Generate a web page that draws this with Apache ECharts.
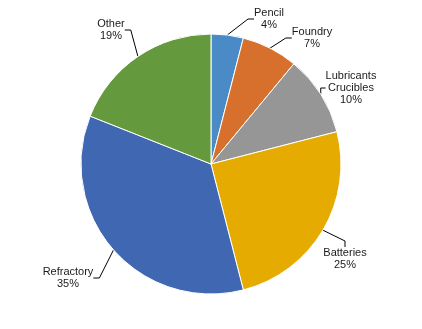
<!DOCTYPE html>
<html>
<head>
<meta charset="utf-8">
<script src="https://cdn.jsdelivr.net/npm/echarts@6/dist/echarts.min.js"></script>
<style>html,body{margin:0;padding:0;background:#fff;}#c{width:422px;height:329px;}</style>
</head>
<body>
<div id="c"></div>
<script>
var categories = ['Pencil', 'Foundry', 'Lubricants\nCrucibles', 'Batteries', 'Refractory', 'Other'];
var values = [4, 7, 10, 25, 35, 19];
var colors = ['#4a8bc7', '#d7702c', '#969696', '#e6ab00', '#3f67b2', '#65993e'];
var labelPos = [[269, 19], [312, 38], [351, 88], [345, 259], [68, 278], [111, 30]];

var chart = echarts.init(document.getElementById('c'), null, {renderer: 'canvas'});
chart.setOption({
  animation: false,
  backgroundColor: '#fff',
  series: [{
    type: 'pie',
    center: [211, 164],
    radius: 130,
    startAngle: 90,
    clockwise: true,
    data: categories.map(function (n, i) {
      return { name: n, value: values[i], itemStyle: { color: colors[i] } };
    }),
    itemStyle: { borderColor: '#fff', borderWidth: 1 },
    label: {
      show: true,
      formatter: '{b}\n{c}%',
      fontFamily: 'Liberation Sans, Arial, sans-serif',
      fontSize: 11,
      lineHeight: 12,
      color: '#1a1a1a',
      align: 'center'
    },
    labelLine: { show: true, lineStyle: { color: '#000', width: 1 }, length: 10, length2: 6 },
    labelLayout: function (p) {
      var pos = labelPos[p.dataIndex];
      return { x: pos[0], y: pos[1], align: 'center', verticalAlign: 'middle' };
    },
    emphasis: { disabled: true }
  }]
});
</script>
</body>
</html>
